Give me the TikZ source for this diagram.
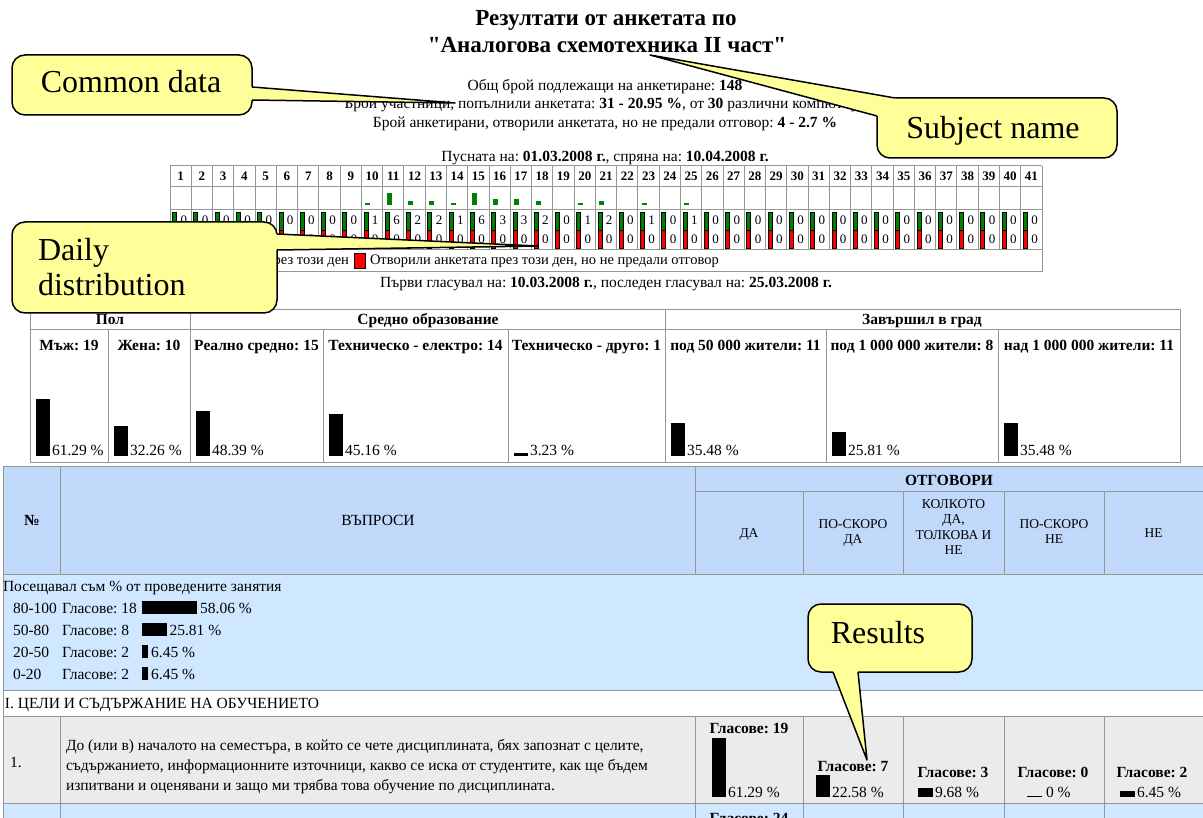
\documentclass[tikz,border=0pt]{standalone}
\usepackage{fontspec}
\setmainfont{Liberation Serif}[Ligatures=TeXOff]
\usetikzlibrary{calc}
\definecolor{cyel}{RGB}{255,255,153}
\definecolor{hblue}{RGB}{192,216,250}
\definecolor{rblue}{RGB}{207,232,255}
\definecolor{rgray}{RGB}{235,235,235}
\definecolor{dgreen}{RGB}{0,128,0}
\definecolor{gline}{RGB}{150,150,150}
\newcommand\fT{\fontsize{23}{26}\selectfont}
\newcommand\fB{\fontsize{15.5}{18}\selectfont}
\newcommand\fS{\fontsize{15.5}{18}\selectfont}
\newcommand\fL{\fontsize{14.5}{17}\selectfont}
\newcommand\fD{\fontsize{13}{16}\selectfont}
\newcommand\fH{\fontsize{13.5}{16}\selectfont}
\newcommand\fA{\fontsize{15.5}{18}\selectfont}
\newcommand\fC{\fontsize{32}{36}\selectfont}
\frenchspacing
\begin{document}
\begin{tikzpicture}[x=1pt,y=-1pt,
  every node/.style={inner sep=0pt,outer sep=0pt},
  tb/.style={font=\fB,anchor=base},
  ts/.style={font=\fS,anchor=base},
  tsl/.style={font=\fS,anchor=base west},
  tsb/.style={font=\fS\bfseries,anchor=base},
  td/.style={font=\fD,anchor=base},
  tdb/.style={font=\fD\bfseries,anchor=base},
  th/.style={font=\fH,anchor=base},
  ta/.style={font=\fA\bfseries,anchor=base},
  tal/.style={font=\fA,anchor=base west},
  gl/.style={draw=gline,line width=1pt},
  callbox/.style={draw=black,line width=1.5pt,fill=cyel,rounded corners=13pt},
  cwedge/.style={draw=black,line width=1.5pt,line join=round},
  ctext/.style={font=\fC,anchor=base},
  sq/.style={draw=black,line width=.6pt,minimum width=11pt,minimum height=15pt}
]
\useasboundingbox (0,0) rectangle (1203,818);
\fill[white] (0,0) rectangle (1203,818);
\begin{scope}
\clip (0,0) rectangle (1203,818);

% ---------- title and common data
\node[font=\fT\bfseries,anchor=base] (t1) at (606,26) {Резултати от анкетата по};
\node[font=\fT\bfseries,anchor=base] (t2) at (607,53) {"Аналогова схемотехника II част"};
\node[tb] (l1) at (605,91) {Общ брой подлежащи на анкетиране: \textbf{148}};
\node[tb] (l2) at (605,109) {Брой участници, попълнили анкетата: \textbf{31 - 20.95 \%}, от \textbf{30} различни компютъра};
\node[tb] (l3) at (605,128) {Брой анкетирани, отворили анкетата, но не предали отговор: \textbf{4 - 2.7 \%}};
\node[tb] (l4) at (605,162) {Пусната на: \textbf{01.03.2008 г.}, спряна на: \textbf{10.04.2008 г.}};

% ---------- daily table
\foreach \v [count=\n] in {0,0,0,0,0,0,0,0,0,1,6,2,2,1,6,3,3,2,0,1,2,0,1,0,1,0,0,0,0,0,0,0,0,0,0,0,0,0,0,0,0}{
  \pgfmathsetmacro\xl{170+(\n-1)*21.27}
  \node[tdb] (h\n) at (\xl+10.63,181) {\n};
  \ifnum\v>0 \fill[dgreen] (\xl+4,205) rectangle (\xl+9,205-2*\v); \fi
  \filldraw[fill=dgreen,draw=black,line width=.6pt] (\xl+2.5,212) rectangle (\xl+6.5,230);
  \filldraw[fill=red,draw=black,line width=.6pt] (\xl+2.5,230) rectangle (\xl+6.5,248);
  \node[td] (c\n) at (\xl+13.8,225) {\v};
  \node[td] (z\n) at (\xl+13.8,244) {0};
  \draw[gl] (\xl,166) -- (\xl,250);
}
\draw[gl] (170,250) -- (170,272);
\draw[gl] (1042,166) -- (1042,272);
\foreach \yy in {166,187,210,250,272} \draw[gl] (170,\yy) -- (1042,\yy);
\node[sq,fill=red] (lg2) at (359.5,261) {};
\node[font=\fL,anchor=east] (lt1) at ($(lg2.west)+(-5,0)$) {Гласували през този ден};
\node[sq,fill=dgreen,anchor=east] (lg1) at ($(lt1.west)+(-4,0)$) {};
\node[font=\fL,anchor=west] (lt2) at ($(lg2.east)+(5,0)$) {Отворили анкетата през този ден, но не предали отговор};
\node[tb] (l5) at (606,288) {Първи гласувал на: \textbf{10.03.2008 г.}, последен гласувал на: \textbf{25.03.2008 г.}};

% ---------- demographics
\draw[gl] (30,310) rectangle (1180,462);
\draw[gl] (30,330) -- (1180,330);
\foreach \xx in {190,665} \draw[gl] (\xx,310) -- (\xx,462);
\foreach \xx in {108,323,508,826,998} \draw[gl] (\xx,330) -- (\xx,462);
\node[tsb] (dh1) at (110,325) {Пол};
\node[tsb] (dh2) at (428,325) {Средно образование};
\node[tsb] (dh3) at (922,325) {Завършил в град};
\foreach \l/\r/\t/\p [count=\n] in {30/108/Мъж: 19/61.29, 108/190/Жена: 10/32.26, 190/323/Реално средно: 15/48.39, 323/508/Техническо - електро: 14/45.16, 508/665/Техническо - друго: 1/3.23, 665/826/под 50 000 жители: 11/35.48, 826/998/под 1 000 000 жители: 8/25.81, 998/1180/над 1 000 000 жители: 11/35.48}{
  \node[tsb] (dl\n) at ({(\l+\r)/2},351) {\t};
  \fill (\l+6,456) rectangle (\l+20,456-0.93*\p);
  \node[tsl] (dp\n) at (\l+22,456) {\p~\%};
}

% ---------- main table fills
\fill[hblue] (3,466) rectangle (1210,574);
\fill[rblue] (3,574) rectangle (1210,690);
\fill[rgray] (3,716) rectangle (1210,803);
\fill[rblue] (3,803) rectangle (1210,830);
% lines
\foreach \yy in {466,574,690,716,803} \draw[gl] (3,\yy) -- (1210,\yy);
\draw[gl] (695,491) -- (1210,491);
\draw[gl] (3,466) -- (3,830);
\foreach \xx in {60,695} {\draw[gl] (\xx,466) -- (\xx,574); \draw[gl] (\xx,716) -- (\xx,830);}
\foreach \xx in {803,903,1004,1104} {\draw[gl] (\xx,491) -- (\xx,574); \draw[gl] (\xx,716) -- (\xx,830);}
% header texts
\node[tsb] (hn) at (32,525) {№};
\node[ts] (hq) at (378,525) {ВЪПРОСИ};
\node[tsb] (ho) at (949,485) {ОТГОВОРИ};
\node[th] (s1) at (749,537) {ДА};
\node[th] (s2a) at (853,528) {ПО-СКОРО};
\node[th] (s2b) at (853,543) {ДА};
\node[th] (s3a) at (953.5,508) {КОЛКОТО};
\node[th] (s3b) at (953.5,523) {ДА,};
\node[th] (s3c) at (953.5,539) {ТОЛКОВА И};
\node[th] (s3d) at (953.5,554) {НЕ};
\node[th] (s4a) at (1054,528) {ПО-СКОРО};
\node[th] (s4b) at (1054,543) {НЕ};
\node[th] (s5) at (1153.5,537) {НЕ};

% attendance
\node[tsl] (a0) at (3,591) {Посещавал съм \% от проведените занятия};
\foreach \yy/\lab/\g/\p [count=\n] in {608/80-100/18/58.06, 630/50-80/8/25.81, 652/20-50/2/6.45, 674/0-20/2/6.45}{
  \node[tsl] (ar\n) at (13,\yy+5) {\lab};
  \node[tsl] (ag\n) at (62,\yy+5) {Гласове: \g};
  \fill (142,\yy-7) rectangle (142+0.95*\p,\yy+6);
  \node[tsl] (ap\n) at (142+0.95*\p+3,\yy+5) {\p~\%};
}

% section and question
\node[tsl] (sec) at (5,708) {I. ЦЕЛИ И СЪДЪРЖАНИЕ НА ОБУЧЕНИЕТО};
\node[tsl] (qn) at (10,767) {1.};
\node[tsl] (q1) at (66,750) {До (или в) началото на семестъра, в който се чете дисциплината, бях запознат с целите,};
\node[tsl] (q2) at (66,770) {съдържанието, информационните източници, какво се иска от студентите, как ще бъдем};
\node[tsl] (q3) at (66,790) {изпитвани и оценявани и защо ми трябва това обучение по дисциплината.};
% answers
\node[ta] (g1) at (749,733) {Гласове: 19};
\fill (712,797) rectangle (726,738);
\node[tal] (p1) at (728,797) {61.29 \%};
\node[ta] (g2) at (853,771) {Гласове: 7};
\fill (816,797) rectangle (830,775);
\node[tal] (p2) at (832,797) {22.58 \%};
\node[ta] (g3) at (953,777) {Гласове: 3};
\fill (918,797) rectangle (933,788);
\node[tal] (p3) at (935,797) {9.68 \%};
\node[ta] (g4) at (1053,777) {Гласове: 0};
\fill (1027,797) rectangle (1042,796);
\node[tal] (p4) at (1046,797) {0 \%};
\node[ta] (g5) at (1152,777) {Гласове: 2};
\fill (1120,797) rectangle (1135,791);
\node[tal] (p5) at (1137,797) {6.45 \%};
\node[ta] (g6) at (749,823) {Гласове: 24};

% ---------- callouts
% Common data
\node[callbox,minimum width=240pt,minimum height=60pt] (cd) at (132,85) {};
\coordinate (cdA) at (252,87);
\coordinate (cdB) at (252,100);
\coordinate (cdP) at (455,103);
\fill[cyel] (248,87) -- (cdA) -- (cdP) -- (cdB) -- (248,100) -- cycle;
\draw[cwedge] (cdA) -- (cdP) -- (cdB);
\node[ctext] (cdt) at (131,93) {Common data};
% Subject name
\node[callbox,minimum width=240pt,minimum height=60pt] (sn) at (997,128) {};
\coordinate (snA) at (895,98);
\coordinate (snB) at (877,116);
\coordinate (snP) at (650,55);
\fill[cyel] (snA) -- (snP) -- (snB) -- (881,116) -- (897,102) -- cycle;
\draw[cwedge] (snA) -- (snP) -- (snB);
\node[ctext] (snt) at (993,139) {Subject name};
% Daily distribution
\node[callbox,minimum width=265pt,minimum height=91pt] (dd) at (144.5,267.5) {};
\coordinate (ddA) at (277,234);
\coordinate (ddB) at (277,250);
\coordinate (ddP) at (538,246);
\fill[cyel] (273,234) -- (ddA) -- (ddP) -- (ddB) -- (273,250) -- cycle;
\draw[cwedge] (ddA) -- (ddP) -- (ddB);
\node[font=\fC,anchor=base west] (ddt1) at (38,261) {Daily};
\node[font=\fC,anchor=base west] (ddt2) at (38,296) {distribution};
% Results
\node[callbox,minimum width=164pt,minimum height=68pt] (rs) at (890,638) {};
\coordinate (rsA) at (833,672);
\coordinate (rsB) at (858,672);
\coordinate (rsP) at (867,760);
\fill[cyel] (833,668) -- (rsA) -- (rsP) -- (rsB) -- (858,668) -- cycle;
\draw[cwedge] (rsA) -- (rsP) -- (rsB);
\node[ctext] (rst) at (878,643) {Results};
\end{scope}
\end{tikzpicture}
\end{document}
